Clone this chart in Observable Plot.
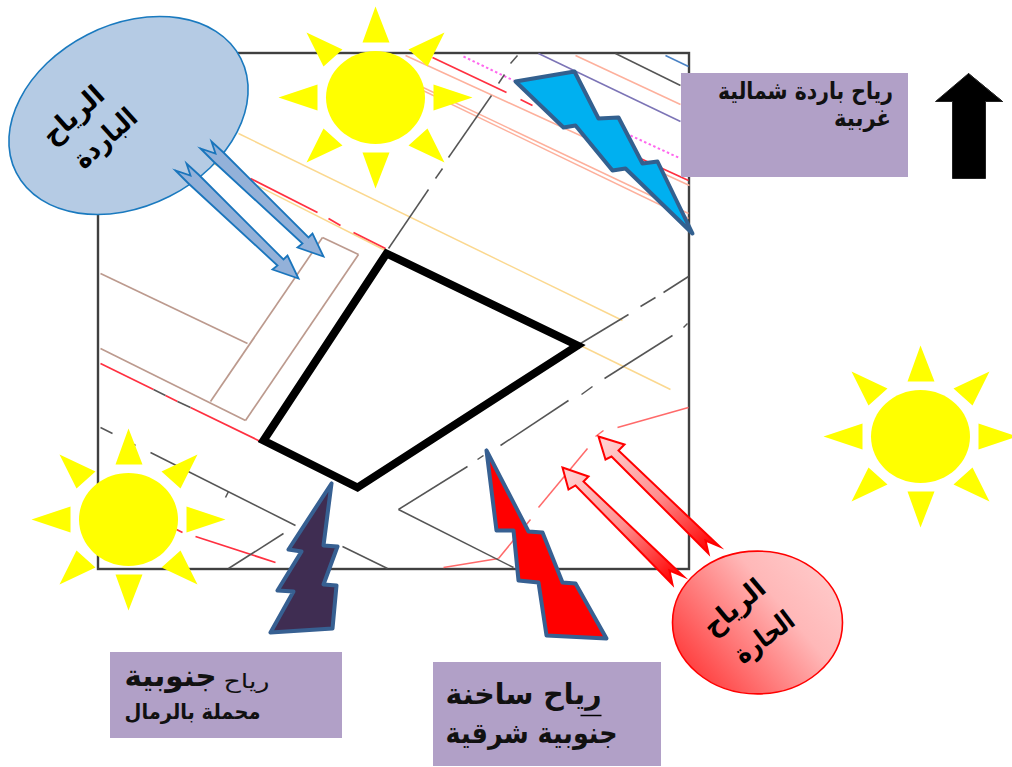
<!DOCTYPE html>
<html lang="ar">
<head>
<meta charset="utf-8">
<script src="https://cdn.jsdelivr.net/npm/d3@7"></script>
<script src="https://cdn.jsdelivr.net/npm/@observablehq/plot@0.6"></script>
<style>
html,body{margin:0;padding:0;background:#fff}
svg{display:block}
</style>
</head>
<body>
<div id="chart"></div>
<script>
// ---- site plan line work: [x1, y1, x2, y2] ----
const blackSegments = [
  [517,55,510,63],[504,74,498,83],[491,95,448,157],[442,168,435,178],[428,189,388,248],
  [580,343,628,314],[640,306,655,297],[663,292,688,276],
  [687,323,683,327],[672,335,604,378],[592,386,581,394],[568,400,500,445],[483,455,477,459],
  [467,466,398,509],[398,509,513,567],
  [100,427,112,433],[125,439,135,445],[150,452,295,525],[228,491,225,497],
  [283,533,228,568],[342,546,387,568],[615,53,680,85],
  [153,389,165,395],[177,401,190,407]
];
const salmonSegments = [
  [405,55,689,185],[410,81,688,213],[410,84,688,218],[575,55,680,104]
];
const violetSegments = [[538,53,680,121]];
const blueSegments = [[665,55,688,66]];
const magentaSegments = [[463,56,513,80],[630,135,680,158]];
const redSegments = [
  [432,57,506,92],[520,99,532,105],[640,158,688,180],
  [250,178,317,212],[328,218,340,225],[353,232,385,248],
  [100,363,153,389],[165,395,177,401],[190,407,260,441],
  [195,536,275,562],[176,529,182,532]
];
const softRedSegments = [
  [688,407,617,427],[603,430,595,436],[587,448,538,507],[530,519,498,558],[498,558,443,567]
];
const yellowSegments = [[238,133,622,320],[580,345,670,389],[213,163,385,250]];
const brownSegments = [
  [100,273,247,343],[322,237,358,254],[358,254,245,420],[245,420,100,348],[322,237,210,401]
];
const underlineSegments = [[580,715,601,715]];

// ---- closed shapes: [x, y] vertices ----
const plot = [[386,253],[577,345],[357,487],[263,440]];
const cyanBolt = [[515,81],[574,71],[598,118],[618,117],[642,163],[657,161],[692,233],[625,168],[612,170],[575,125],[563,127]];
const darkBolt = [[331,483],[288,549],[301,551],[277,590],[293,591],[270,632],[332,628],[336,585],[323,584],[337,546],[323,545]];
const redBolt = [[486,450],[496,530],[513,530],[518,580],[538,582],[546,635],[606,638],[575,583],[562,582],[542,532],[528,531]];
const blueArrowA = [[200,148],[213,161],[302,243],[297,247],[323,256],[312,233],[308,237],[223,152],[211,141],[215,153]];
const blueArrowB = [[175,170],[188,183],[277,265],[272,269],[298,278],[287,255],[283,259],[198,174],[186,163],[190,175]];
const redArrowA = [[598,436],[624,444],[618,450],[719,546],[705,540],[708,553],[611,456],[605,459]];
const redArrowB = [[562,467],[588,476],[583,481],[683,576],[669,570],[672,584],[575,485],[568,489]];
const northArrow = [[968,73],[1002,101],[985,101],[985,178],[952,178],[952,101],[935,101]];

// ---- sun: centres and ray vertices relative to the centre ----
const sunCentres = [[375,97],[920,436],[128,519]];
const sunRays = [
  [[0,-91],[-13,-55],[14,-55]],[[0,91],[-13,55],[14,55]],
  [[97,0],[58,-13],[58,13]],[[-97,0],[-58,-13],[-58,13]],
  [[69,-65],[33,-48],[52,-31]],[[-69,-65],[-33,-48],[-52,-31]],
  [[69,65],[33,48],[52,31]],[[-69,65],[-33,48],[-52,31]]
];

// ---- label boxes: [x1, y1, x2, y2] ----
const labelBoxes = [[681,73,908,177],[110,652,342,738],[433,662,661,766]];

// ---- texts: position, size and drawn length ----
const boldTexts = [
  {t:"رياح باردة شمالية", x:805, y:91, s:24, l:175},
  {t:"غربية", x:862, y:118, s:24, l:57},
  {t:"جنوبية", x:170, y:676, s:30, l:92},
  {t:"محملة بالرمال", x:192, y:712, s:21, l:136},
  {t:"رياح ساخنة", x:523, y:694, s:29, l:156},
  {t:"جنوبية شرقية", x:531, y:733, s:29, l:172}
];
const plainTexts = [
  {t:"رياح", x:246, y:681, s:20, l:46}
];
const ellipseTexts = [
  {t:"الرياح", x:73, y:115, a:-42, s:27, l:73},
  {t:"الباردة", x:105, y:138, a:-42, s:27, l:75},
  {t:"الرياح", x:734, y:607, a:-40, s:27, l:72},
  {t:"الحارة", x:764, y:637, a:-37, s:27, l:68}
];

const ellipseSymbol = ratio => ({
  draw(ctx, size) {
    const a = Math.sqrt(size / Math.PI), b = a * ratio, k = 0.5523;
    ctx.moveTo(a, 0);
    ctx.bezierCurveTo(a, k*b, k*a, b, 0, b);
    ctx.bezierCurveTo(-k*a, b, -a, k*b, -a, 0);
    ctx.bezierCurveTo(-a, -k*b, -k*a, -b, 0, -b);
    ctx.bezierCurveTo(k*a, -b, a, -k*b, a, 0);
    ctx.closePath();
  }
});

const gx = d => d[0], gy = d => d[1];
const segs = (data, stroke, strokeWidth, extra = {}) =>
  Plot.link(data, {x1: d => d[0], y1: d => d[1], x2: d => d[2], y2: d => d[3], stroke, strokeWidth, ...extra});
const poly = (pts, fill, stroke, strokeWidth, strokeLinejoin = "miter") =>
  Plot.line([...pts, pts[0], pts[1]], {x: gx, y: gy, fill, stroke, strokeWidth, strokeLinejoin, strokeMiterlimit: 8});

const F = "'DejaVu Sans', sans-serif";
const label = (data, fontWeight, fill) => Plot.text(data, {
  x: "x", y: "y", text: "t", fontSize: "s", rotate: d => d.a ?? 0, fontWeight, fontFamily: F, fill,
  textAnchor: "middle", lineAnchor: "middle",
  render(I, s, v, d, c, next) {
    const g = next(I, s, v, d, c);
    d3.select(g).selectAll("text").attr("textLength", i => data[i].l).attr("lengthAdjust", "spacingAndGlyphs");
    return g;
  }
});

const defs = () => {
  const d = d3.create("svg:defs");
  const add = (id, x1, y1, x2, y2, stops) => {
    const g = d.append("linearGradient").attr("id", id)
      .attr("x1", x1).attr("y1", y1).attr("x2", x2).attr("y2", y2);
    stops.forEach(([o, c]) => g.append("stop").attr("offset", o).attr("stop-color", c));
  };
  add("hotArrow", 0, 0, 1, 1, [[0.05, "#ffd0d0"], [0.5, "#ff8f8f"], [0.95, "#ff0000"]]);
  add("hotBall", 1, 0.15, 0, 0.85, [[0, "#ffcccc"], [0.35, "#ffb8b8"], [1, "#ff3030"]]);
  return d.node();
};

const suns = sunCentres.flatMap(([cx, cy]) => [
  Plot.dot([[cx, cy]], {x: gx, y: gy, r: 49.5, fill: "#ffff00", stroke: "none", symbol: ellipseSymbol(0.94)}),
  ...sunRays.map(r => poly(r.map(([dx, dy]) => [cx + dx, cy + dy]), "#ffff00", "none", 0))
]);

const chart = Plot.plot({
  width: 1012,
  height: 767,
  margin: 0,
  x: {domain: [0, 1012], range: [0, 1012], axis: null},
  y: {domain: [0, 767], range: [0, 767], axis: null},
  marks: [
    defs,
    Plot.rect([[98,53,689,569]], {x1: d=>d[0], y1: d=>d[1], x2: d=>d[2], y2: d=>d[3], fill: "#fff", stroke: "#404040", strokeWidth: 2.4}),
    segs(yellowSegments, "#fbd88f", 1.5),
    segs(salmonSegments, "#fdb09c", 1.5),
    segs(brownSegments, "#bc9a8e", 1.7),
    segs(violetSegments, "#7c74b6", 1.5),
    segs(blueSegments, "#4a82c4", 1.5),
    segs(magentaSegments, "#ff66ee", 2, {strokeDasharray: "2.5,2.5"}),
    segs(redSegments, "#ff3040", 1.7),
    segs(softRedSegments, "#ff6a6a", 1.5),
    segs(blackSegments, "#555555", 1.5),
    poly(plot, "#ffffff", "#000000", 8),
    ...suns,
    poly(cyanBolt, "#00b0f0", "#33608f", 4, "round"),
    poly(darkBolt, "#3f2d52", "#376092", 4, "round"),
    poly(redBolt, "#ff0000", "#376092", 4, "round"),
    Plot.dot([[128,115]], {x: gx, y: gy, r: 126, symbol: ellipseSymbol(0.72), rotate: -27, fill: "#b5cbe4", stroke: "#1a7abf", strokeWidth: 1.6}),
    Plot.dot([[757,622]], {x: gx, y: gy, r: 85, symbol: ellipseSymbol(0.84), fill: "url(#hotBall)", stroke: "#ff0000", strokeWidth: 1.6}),
    poly(blueArrowA, "#93b1d9", "#1a75bc", 1.8),
    poly(blueArrowB, "#93b1d9", "#1a75bc", 1.8),
    poly(redArrowA, "url(#hotArrow)", "#ff0000", 2),
    poly(redArrowB, "url(#hotArrow)", "#ff0000", 2),
    Plot.rect(labelBoxes, {x1: d=>d[0], y1: d=>d[1], x2: d=>d[2], y2: d=>d[3], fill: "#b1a0c7"}),
    poly(northArrow, "#000000", "#222", 1),
    segs(underlineSegments, "#000000", 1.5),
    label(boldTexts, "bold", "#111"),
    label(plainTexts, "normal", "#111"),
    label(ellipseTexts, "bold", "#000")
  ]
});
chart.style.background = "#fff";
document.getElementById("chart").appendChild(chart);
</script>
</body>
</html>
